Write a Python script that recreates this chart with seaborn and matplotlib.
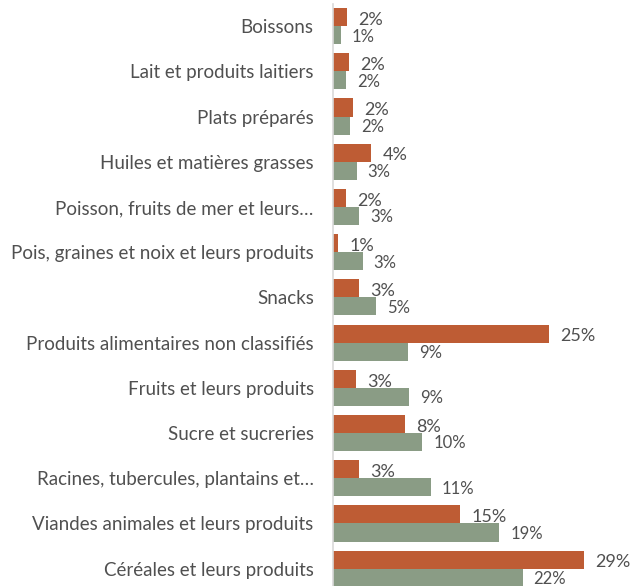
import matplotlib
matplotlib.use("Agg")
from matplotlib import pyplot as plt
import seaborn as sns
import pandas as pd

# categories, top to bottom
categories = [
    "Boissons",
    "Lait et produits laitiers",
    "Plats préparés",
    "Huiles et matières grasses",
    "Poisson, fruits de mer et leurs…",
    "Pois, graines et noix et leurs produits",
    "Snacks",
    "Produits alimentaires non classifiés",
    "Fruits et leurs produits",
    "Sucre et sucreries",
    "Racines, tubercules, plantains et…",
    "Viandes animales et leurs produits",
    "Céréales et leurs produits",
]
series_names = ["Série 1", "Série 2"]
orange_values = [1.6, 1.8, 2.3, 4.4, 1.5, 0.6, 3.0, 25.0, 2.6, 8.3, 3.0, 14.7, 29.0]
green_values = [0.9, 1.5, 1.9, 2.7, 3.0, 3.4, 4.9, 8.6, 8.8, 10.3, 11.3, 19.2, 21.9]
orange_labels = ["2%", "2%", "2%", "4%", "2%", "1%", "3%", "25%", "3%", "8%", "3%", "15%", "29%"]
green_labels = ["1%", "2%", "2%", "3%", "3%", "3%", "5%", "9%", "9%", "10%", "11%", "19%", "22%"]

ORANGE = "#BE5C34"
GREEN = "#8A9C85"
TEXT = "#505050"


def label_bars(ax, container, labels, size, dy):
    # text to the right of each bar, nudged a little downward like the original
    for patch, lab in zip(container.patches, labels):
        ax.annotate(lab, (patch.get_width(), patch.get_y() + patch.get_height() / 2),
                    xytext=(8, dy), textcoords="offset points",
                    ha="left", va="center", fontsize=size, color=TEXT)


def main():
    df = pd.DataFrame({
        "cat": categories * 2,
        "serie": [series_names[0]] * len(categories) + [series_names[1]] * len(categories),
        "val": orange_values + green_values,
    })

    sns.set_style("white")
    plt.rcParams["font.family"] = ["Lato", "DejaVu Sans"]

    fig = plt.figure(figsize=(6.31, 5.86), dpi=100)
    ax = fig.add_axes([0.528, -0.009, 0.466, 1.003])
    sns.barplot(data=df, y="cat", x="val", hue="serie", order=categories,
                hue_order=series_names, palette=[ORANGE, GREEN], width=0.8,
                orient="h", ax=ax, legend=False, saturation=1, linewidth=0)

    label_bars(ax, ax.containers[0], orange_labels, 13, -2)
    label_bars(ax, ax.containers[1], green_labels, 12, -1)

    ax.set_xlim(0, 34)
    ax.set_ylim(12.5, -0.5)
    ax.set_xlabel("")
    ax.set_ylabel("")
    ax.set_xticks([])
    ax.tick_params(axis="y", length=0, pad=14, labelsize=13.5, labelcolor=TEXT)
    for s in ["top", "right", "bottom"]:
        ax.spines[s].set_visible(False)
    ax.spines["left"].set_color("#D9D9D9")
    ax.spines["left"].set_linewidth(1.2)

    fig.savefig("out.png", dpi=100)


if __name__ == "__main__":
    main()
